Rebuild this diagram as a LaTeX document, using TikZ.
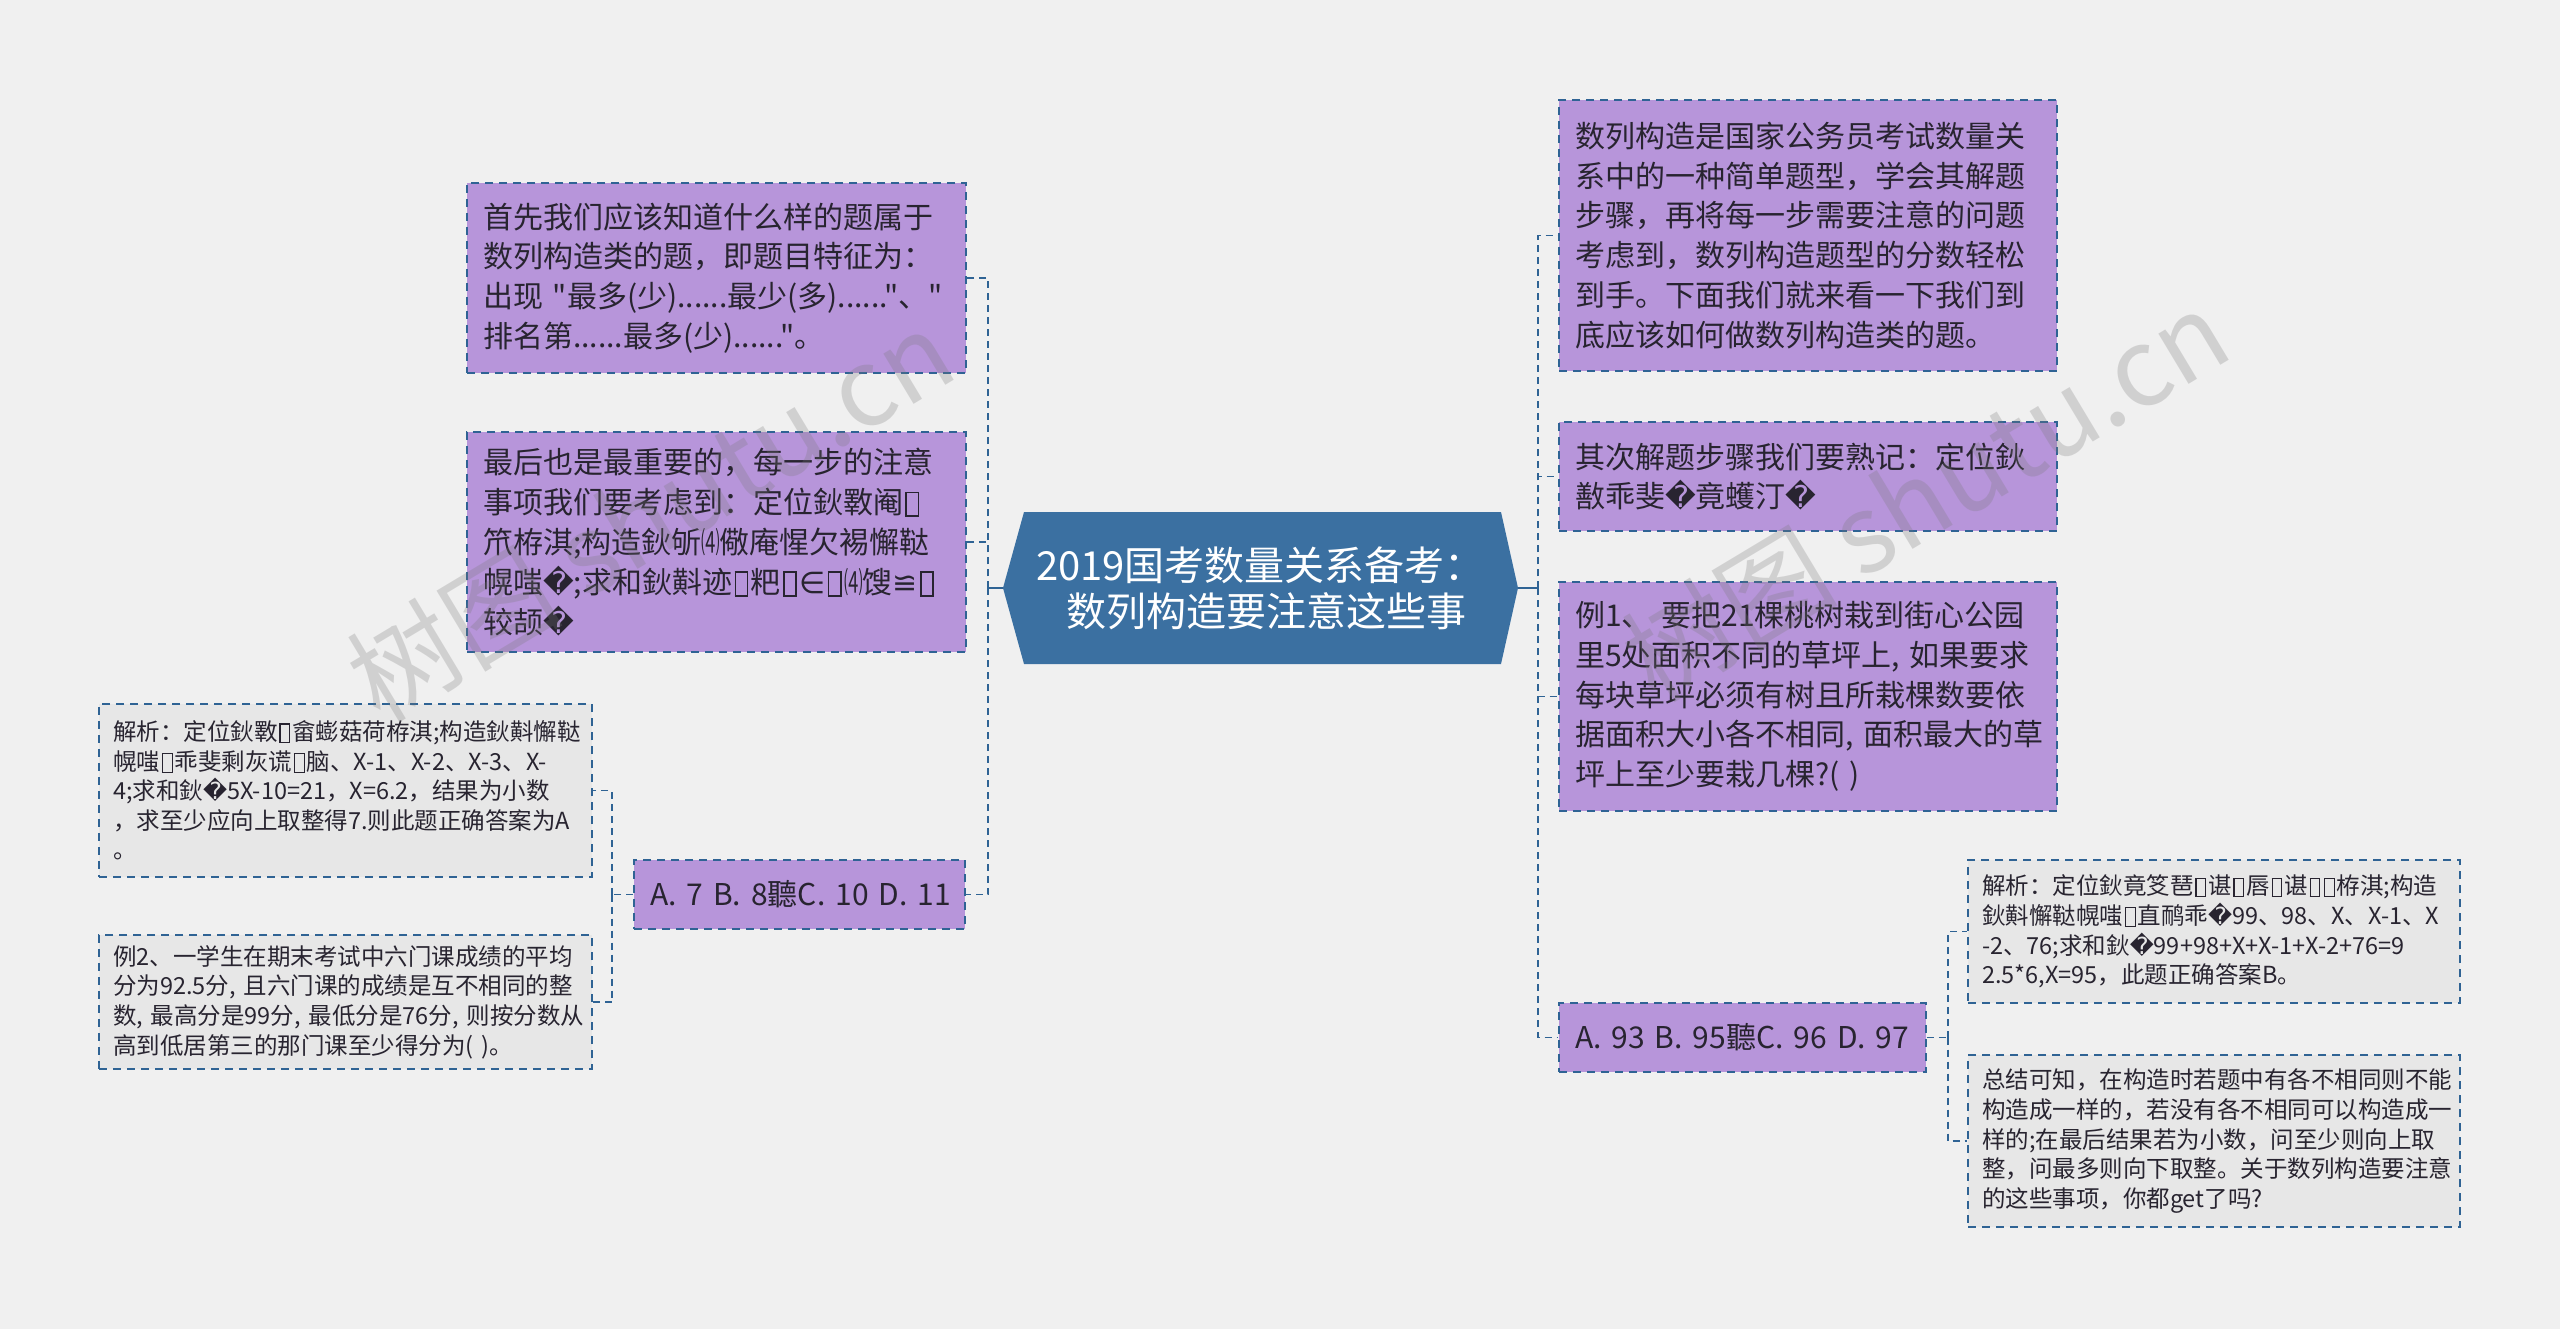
\documentclass[tikz,border=0pt]{standalone}
\usepackage{fontspec}
\usepackage{graphicx}
\setmainfont{Noto Sans CJK SC}[Ligatures=TeXOff]
\newfontfamily\dvsfont{DejaVu Sans}[Ligatures=TeXOff]
\newcommand\qmk{{\dvsfont\symbol{"FFFD}}}
\newcommand\tofu{\kern0.08em{\setlength\fboxsep{0pt}\setlength\fboxrule{0.05em}\raisebox{-0.06em}{\fbox{\rule{0pt}{0.74em}\hspace{0.36em}}}}\kern0.08em}
\newcommand\pfour{\scalebox{0.62}[1]{⑷}}
\newcommand\inset{{\dvsfont ∈}}
\newcommand\ncong{{\dvsfont ≌}}
\definecolor{bgc}{RGB}{240,240,240}
\definecolor{purp}{RGB}{183,149,218}
\definecolor{grayf}{RGB}{231,231,231}
\definecolor{bord}{RGB}{47,99,148}
\definecolor{cfill}{RGB}{59,112,161}
\definecolor{txt}{RGB}{40,36,48}
\definecolor{wmc}{RGB}{120,120,120}
\tikzset{
  pbox/.style={draw=bord, fill=purp, line width=1.8pt, dash pattern=on 8pt off 6pt,
    text=txt, align=left, inner xsep=16pt, inner ysep=0pt, font=\fontsize{30}{39.8}\selectfont},
  gbox/.style={draw=bord, fill=grayf, line width=1.8pt, dash pattern=on 8pt off 6pt,
    text=txt, align=left, inner xsep=14pt, inner ysep=0pt, font=\fontsize{23.5}{29.6}\selectfont},
  link/.style={draw=bord, line width=1.8pt, dash pattern=on 7pt off 5pt},
  slink/.style={draw=bord, line width=1.8pt},
  wm/.style={text=wmc, opacity=0.26, font=\fontsize{108}{108}\selectfont, inner sep=0pt}
}
\begin{document}
\begin{tikzpicture}[x=1pt,y=-1pt]
\useasboundingbox (0,0) rectangle (2560,1329);
\fill[bgc] (0,0) rectangle (2560,1329);

% centre
\fill[cfill] (1024,512) -- (1501,512) -- (1518,588) -- (1501,664) -- (1024,664) -- (1003,588) -- cycle;
\node[minimum width=515pt, minimum height=152pt, inner sep=0pt, text=white, align=center,
  font=\fontsize{40}{46}\selectfont] (c) at (1260.5,588) {2019国考数量关系备考：\\\hspace*{0.3em}数列构造要注意这些事};

% left
\node[pbox, text width=467pt, minimum height=190pt] (n1) at (716.5,278)
 {首先我们应该知道什么样的题属于\\数列构造类的题，即题目特征为：\\出现~"最多(少)......最少(多)......"、"\\排名第......最多(少)......"。};
\node[pbox, text width=467pt, minimum height=220pt] (n2) at (716.5,542)
 {最后也是最重要的，每一步的注意\\事项我们要考虑到：定位鈥斁阉\tofu\\笊栫淇;构造鈥斪\pfour 儆庵惺欠裼懈鞑\\幌嗤\qmk;求和鈥斢迹\tofu 粑\tofu\inset\tofu\pfour 馊\ncong\tofu\\较颉\qmk};
\node[pbox, text width=299pt, minimum height=69pt] (n3) at (799.5,894.5)
 {A.~7~B.~8聽C.~10~D.~11};
\node[gbox, text width=465pt, minimum height=173pt] (n4) at (345.5,790.5)
 {解析：定位鈥斁\tofu 畲蟛菇荷栫淇;构造鈥斢懈鞑\\幌嗤\tofu 乖斐剩灰谎\tofu 脑、X-1、X-2、X-3、X-\\4;求和鈥\qmk 5X-10=21，X=6.2，结果为小数\\，求至少应向上取整得7.则此题正确答案为A\\。};
\node[gbox, text width=465pt, minimum height=134pt] (n5) at (345.5,1002)
 {例2、一学生在期末考试中六门课成绩的平均\\分为92.5分,~且六门课的成绩是互不相同的整\\数,~最高分是99分,~最低分是76分,~则按分数从\\高到低居第三的那门课至少得分为(~)。};

% right
\node[pbox, text width=466pt, minimum height=271pt] (n6) at (1808,235.5)
 {数列构造是国家公务员考试数量关\\系中的一种简单题型，学会其解题\\步骤，再将每一步需要注意的问题\\考虑到，数列构造题型的分数轻松\\到手。下面我们就来看一下我们到\\底应该如何做数列构造类的题。};
\node[pbox, text width=466pt, minimum height=109pt] (n7) at (1808,476.5)
 {其次解题步骤我们要熟记：定位鈥\\敾乖斐\qmk 竟蠖汀\qmk};
\node[pbox, text width=466pt, minimum height=229pt] (n8) at (1808,696.5)
 {例1、~要把21棵桃树栽到街心公园\\里5处面积不同的草坪上,~如果要求\\每块草坪必须有树且所栽棵数要依\\据面积大小各不相同,~面积最大的草\\坪上至少要栽几棵?(~)};
\node[pbox, text width=335pt, minimum height=69pt] (n9) at (1742.5,1037.5)
 {A.~93~B.~95聽C.~96~D.~97};
\node[gbox, text width=464pt, minimum height=143pt] (n10) at (2214,931.5)
 {解析：定位鈥竟笅琶\tofu 谌\tofu 唇\tofu 谌\tofu\tofu 栫淇;构造\\鈥斢懈鞑幌嗤\tofu 直鸸乖\qmk 99、98、X、X-1、X\\-2、76;求和鈥\qmk 99+98+X+X-1+X-2+76=9\\2.5*6,X=95，此题正确答案B。};
\node[gbox, text width=464pt, minimum height=172pt] (n11) at (2214,1141)
 {总结可知，在构造时若题中有各不相同则不能\\构造成一样的，若没有各不相同可以构造成一\\样的;在最后结果若为小数，问至少则向上取\\整，问最多则向下取整。关于数列构造要注意\\的这些事项，你都get了吗?};

% connectors
\coordinate (lt) at (988,588);
\coordinate (ls) at (612,894.5);
\coordinate (rt) at (1538,588);
\coordinate (rs) at (1948,1037.5);
\draw[slink] (c.west) -- (lt);
\draw[link] (lt) |- (n1.east);
\draw[link] (lt) |- (n2.east);
\draw[link] (lt) |- (n3.east);
\draw[link] (n3.west) -- (ls);
\draw[link] (ls) |- (n4.east);
\draw[link] (ls) |- (n5.east);
\draw[slink] (c.east) -- (rt);
\draw[link] (rt) |- (n6.west);
\draw[link] (rt) |- (n7.west);
\draw[link] (rt) |- (n8.west);
\draw[link] (rt) |- (n9.west);
\draw[link] (n9.east) -- (rs);
\draw[link] (rs) |- (n10.west);
\draw[link] (rs) |- (n11.west);

% watermarks
\node[wm, rotate=31] (wm1) at (650,515) {树图 shutu.cn};
\node[wm, rotate=31] (wm2) at (1925,495) {树图 shutu.cn};
\end{tikzpicture}
\end{document}
